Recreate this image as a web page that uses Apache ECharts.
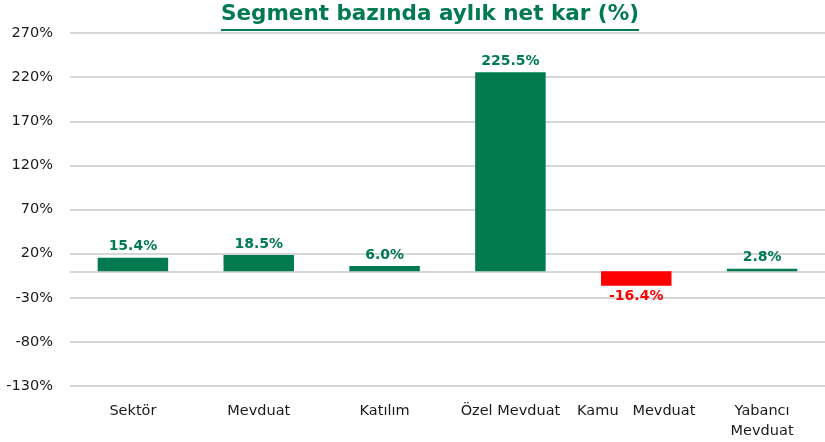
<!DOCTYPE html>
<html>
<head>
<meta charset="utf-8">
<script src="https://cdn.jsdelivr.net/npm/echarts@6/dist/echarts.min.js"></script>
<style>
html,body{margin:0;padding:0;background:#fff;}
#chart{width:825px;height:442px;}
</style>
</head>
<body>
<div id="chart"></div>
<script>
const categories = ['Sektör', 'Mevduat', 'Katılım', 'Özel Mevduat', 'Kamu   Mevduat', 'Yabancı\nMevduat'];
const values = [15.4, 18.5, 6.0, 225.5, -16.4, 2.8];
const yTicks = [-130, -80, -30, 20, 70, 120, 170, 220, 270];
const titleText = 'Segment bazında aylık net kar (%)';

const GREEN = '#007A4E';
const RED = '#FF0000';
const FONT = 'DejaVu Sans';

const chart = echarts.init(document.getElementById('chart'));

const TITLE_FONT = 'bold 21.5px "' + FONT + '"';
const cv = document.createElement('canvas').getContext('2d');
cv.font = TITLE_FONT;
const tw = cv.measureText(titleText).width;
const tcx = 430;

const option = {
  animation: false,
  grid: { left: 70, right: 0, top: 33, bottom: 56, containLabel: false },
  graphic: [
    { type: 'text', left: tcx - tw / 2, top: 3,
      style: { text: titleText, font: TITLE_FONT, fill: GREEN } },
    { type: 'line', shape: { x1: tcx - tw / 2, y1: 30, x2: tcx + tw / 2, y2: 30 },
      style: { stroke: GREEN, lineWidth: 2 } }
  ],
  xAxis: {
    type: 'category',
    data: categories,
    position: 'bottom',
    axisLine: { show: false, onZero: false },
    axisTick: { show: false },
    axisLabel: { fontFamily: FONT, fontSize: 14.5, color: '#1a1a1a', margin: 15, lineHeight: 20, interval: 0 }
  },
  yAxis: {
    type: 'value',
    min: -130,
    max: 270,
    axisLine: { show: false },
    axisTick: { show: false, customValues: yTicks.concat([0]) },
    axisLabel: { customValues: yTicks, formatter: '{value}%', fontFamily: FONT, fontSize: 14.5, color: '#1a1a1a', margin: 17 },
    splitLine: { show: true, lineStyle: { color: '#C8C8C8', width: 1.5 } }
  },
  series: [{
    type: 'bar',
    barWidth: '56%',
    data: values.map(v => ({
      value: v,
      itemStyle: { color: v < 0 ? RED : GREEN },
      label: { color: v < 0 ? RED : GREEN, position: v < 0 ? 'bottom' : 'top' }
    })),
    label: {
      show: true,
      distance: 4,
      fontFamily: FONT,
      fontWeight: 'bold',
      fontSize: 14,
      formatter: p => p.value.toFixed(1) + '%'
    }
  }]
};
chart.setOption(option);
</script>
</body>
</html>
